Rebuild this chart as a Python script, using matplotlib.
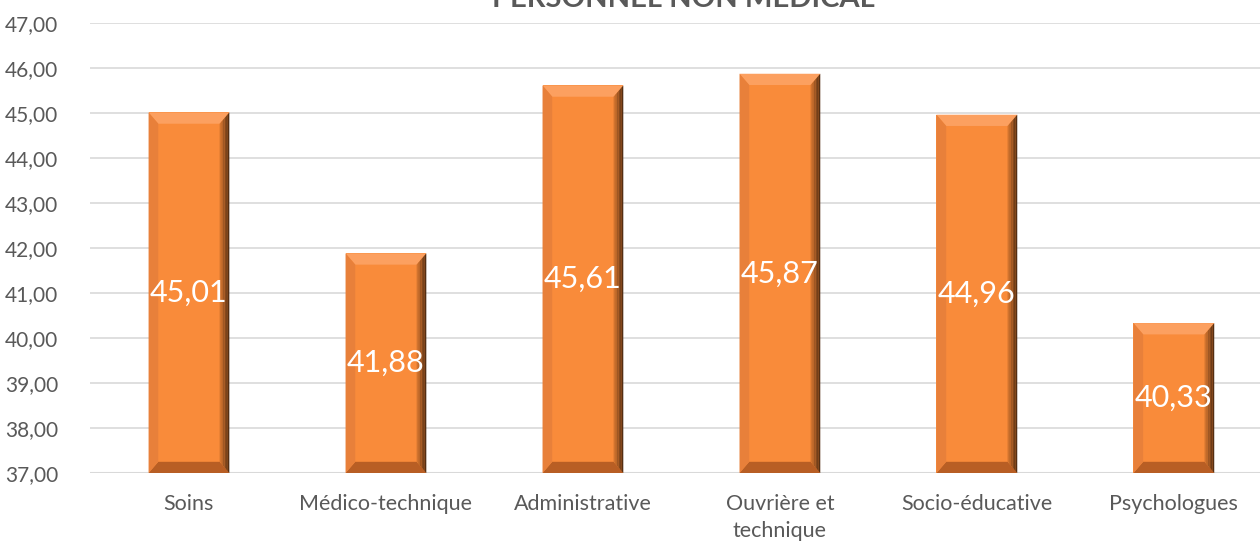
import numpy as np
import matplotlib.pyplot as plt
from matplotlib.patches import Polygon

categories = ["Soins", "Médico-technique", "Administrative",
              "Ouvrière et\ntechnique", "Socio-éducative", "Psychologues"]
values = [45.01, 41.88, 45.61, 45.87, 44.96, 40.33]
labels = ["45,01", "41,88", "45,61", "45,87", "44,96", "40,33"]
yticks = np.arange(37, 48, 1)

plt.rcParams['font.family'] = ['Lato', 'DejaVu Sans']

fig = plt.figure(figsize=(12.6, 5.45), dpi=100)
ax = fig.add_axes([0.0718, 0.132, 0.938, 0.826])

x = np.arange(len(categories))
bars = ax.bar(x, [v - 37 for v in values], bottom=37, width=0.41,
              color='#F98B3A', zorder=2)

# bevel effect on each bar
for rect in bars:
    x0, y0 = rect.get_x(), rect.get_y()
    w, h = rect.get_width(), rect.get_height()
    x1, y1 = x0 + w, y0 + h
    bx = w * 0.12
    by = 0.25
    ax.add_patch(Polygon([(x0, y1), (x1, y1), (x1 - bx, y1 - by), (x0 + bx, y1 - by)],
                         closed=True, color='#FCA060', lw=0, zorder=3))
    ax.add_patch(Polygon([(x0, y0), (x1, y0), (x1 - bx, y0 + by), (x0 + bx, y0 + by)],
                         closed=True, color='#B85E24', lw=0, zorder=3))
    ax.add_patch(Polygon([(x0, y0), (x0 + bx, y0 + by), (x0 + bx, y1 - by), (x0, y1)],
                         closed=True, color='#E8803A', lw=0, zorder=3))
    # right edge: darker gradient
    n = 6
    for i in range(n):
        xa = x1 - bx + bx * i / n
        xb = x1 - bx + bx * (i + 1) / n
        c = np.array([0.82, 0.45, 0.18]) * (1 - 0.6 * i / (n - 1))
        ya0 = y0 + by * (1 - i / n)
        ya1 = y1 - by * (1 - i / n)
        yb0 = y0 + by * (1 - (i + 1) / n)
        yb1 = y1 - by * (1 - (i + 1) / n)
        ax.add_patch(Polygon([(xa, ya0), (xb, yb0), (xb, yb1), (xa, ya1)],
                             closed=True, color=c, lw=0, zorder=3))

for xi, v, lab in zip(x, values, labels):
    ax.text(xi, (37 + v) / 2, lab, ha='center', va='center',
            color='white', fontsize=22, zorder=4)

ax.set_ylim(37, 47)
ax.set_xlim(-0.5, len(categories) - 0.5)
ax.set_yticks(yticks)
ax.set_yticklabels([f"{t:.2f}".replace('.', ',') for t in yticks])
ax.set_xticks(x)
ax.set_xticklabels(categories, linespacing=1.45)
ax.tick_params(axis='both', length=0, colors='#595959')
ax.tick_params(axis='x', pad=15, labelsize=15.5)
ax.tick_params(axis='y', pad=23, labelsize=15)
ax.grid(axis='y', color='#D9D9D9', lw=1.2, zorder=0)
for s in ax.spines.values():
    s.set_visible(False)
ax.axhline(37, color='#D9D9D9', lw=1.5, zorder=1)

fig.text(0.542, 1 - 7 / 545, "PERSONNEL NON MÉDICAL", ha='center', va='baseline',
         fontsize=21, fontweight='bold', color='#595959')

fig.savefig('out.png', dpi=100)
